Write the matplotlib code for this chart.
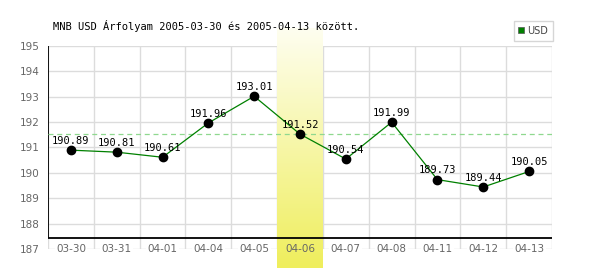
import numpy as np
import matplotlib.pyplot as plt
from matplotlib.lines import Line2D

# Data
dates = ["03-30", "03-31", "04-01", "04-04", "04-05", "04-06",
         "04-07", "04-08", "04-11", "04-12", "04-13"]
usd = [190.89, 190.81, 190.61, 191.96, 193.01, 191.52,
       190.54, 191.99, 189.73, 189.44, 190.05]
highlight = 5          # index of the highlighted day (04-06)
y_ticks = list(range(187, 196))
title = "MNB USD Árfolyam 2005-03-30 és 2005-04-13 között."

fig = plt.figure(figsize=(6, 2.7), dpi=100)
ax = fig.add_axes([48 / 600, 1 - 249 / 270, 504 / 600, (249 - 45.7) / 270])

x = np.arange(len(dates))
ax.set_xlim(-0.5, len(dates) - 0.5)
ax.set_ylim(y_ticks[0], y_ticks[-1])

for s in ax.spines.values():
    s.set_visible(False)

# grid
ax.set_xticks(np.arange(-0.5, len(dates)))
ax.set_xticklabels([])
ax.set_yticks(y_ticks)
ax.set_yticklabels([str(v) for v in y_ticks], fontsize=7.5, color="#666666")
ax.tick_params(length=0, pad=6)
ax.grid(True, color="#dcdcdc", lw=1)
ax.set_axisbelow(True)

# highlight band with a vertical gradient, reaching outside the axes
grad = np.linspace(0, 1, 256).reshape(-1, 1)
from matplotlib.colors import LinearSegmentedColormap
cmap = LinearSegmentedColormap.from_list("hl", ["#fefef0", "#efee5c"])
ax.imshow(grad, cmap=cmap, aspect="auto", origin="upper",
          extent=[highlight - 0.5, highlight + 0.5, 186.25, 195.66],
          clip_on=False, zorder=1)
ax.set_xlim(-0.5, len(dates) - 0.5)
ax.set_ylim(y_ticks[0], y_ticks[-1])

# axis lines
base = 187.43
ax.axhline(base, color="black", lw=1.3, zorder=2)
ax.vlines(-0.5, base, y_ticks[-1], color="black", lw=1.3, zorder=2)

# reference line at highlighted value
ax.axhline(usd[highlight], color="#8fd88f", lw=0.9, ls=(0, (4, 3)), zorder=2)

# series
ax.plot(x, usd, color="#008000", lw=0.9, zorder=3)
ax.plot(x, usd, "o", color="black", ms=6, zorder=4)
for xi, v in zip(x, usd):
    ax.annotate(f"{v:.2f}", (xi, v), xytext=(0, 3), textcoords="offset points",
                ha="center", va="bottom", fontsize=7.5,
                family="DejaVu Sans Mono", zorder=5)

# x labels sitting on the lowest gridline
for i, d in enumerate(dates):
    kw = {}
    if i != highlight:
        kw["bbox"] = dict(facecolor="white", edgecolor="none", pad=1)
    ax.text(i, y_ticks[0], d, ha="center", va="center", fontsize=7.5,
            color="#666666", zorder=5, clip_on=False, **kw)

fig.text(53 / 600, 1 - 26 / 270, title, ha="left", va="center",
         fontsize=7.5, family="DejaVu Sans Mono")

handle = Line2D([], [], marker="s", color="#008000", ls="none", ms=4,
                markeredgecolor="#555555", markeredgewidth=0.5)
leg = fig.legend([handle], ["USD"], loc="upper right",
                 bbox_to_anchor=(553 / 600, 1 - 21 / 270), fontsize=7,
                 frameon=True, fancybox=False, handlelength=0.6,
                 handletextpad=0.3, borderpad=0.5, borderaxespad=0)
leg.get_frame().set_edgecolor("#cccccc")
leg.get_frame().set_linewidth(1)
for t in leg.get_texts():
    t.set_color("#444444")

fig.savefig("out.png", dpi=100)
